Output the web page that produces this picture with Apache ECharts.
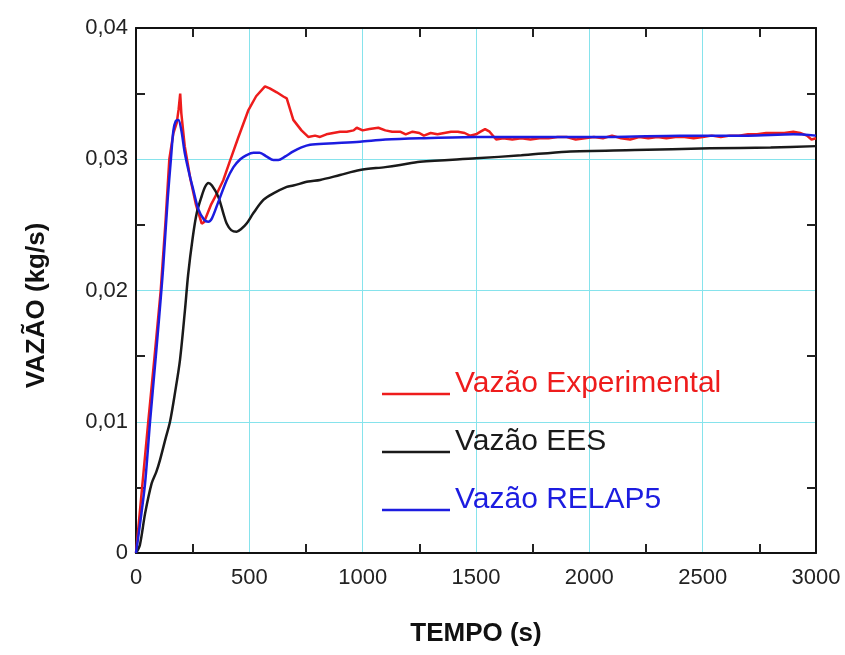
<!DOCTYPE html>
<html>
<head>
<meta charset="utf-8">
<script src="https://cdn.jsdelivr.net/npm/echarts@6/dist/echarts.min.js"></script>
<style>
html,body{margin:0;padding:0;background:#fff;}
#chart{width:845px;height:655px;}
</style>
</head>
<body>
<div id="chart"></div>
<script>
// ---- data ----
var seriesNames = ['Vazão Experimental', 'Vazão EES', 'Vazão RELAP5'];

var expTime = [0, 27, 54, 82, 109, 130, 147, 165, 180, 188, 195, 200, 215, 240, 265, 290, 300, 330, 360, 385, 415, 450, 496, 530, 569, 590, 621, 650, 665, 694, 730, 760, 790, 812, 840, 870, 900, 930, 960, 974, 1000, 1030, 1069, 1100, 1130, 1165, 1190, 1220, 1250, 1270, 1300, 1330, 1360, 1390, 1420, 1450, 1473, 1500, 1520, 1540, 1560, 1589, 1620, 1660, 1700, 1740, 1780, 1820, 1860, 1900, 1940, 1980, 2020, 2060, 2100, 2140, 2180, 2220, 2260, 2300, 2340, 2380, 2420, 2460, 2500, 2540, 2580, 2620, 2660, 2700, 2740, 2780, 2820, 2860, 2900, 2930, 2960, 2980, 3000];
var expFlow = [0, 0.005, 0.01, 0.015, 0.02, 0.0252, 0.03, 0.032, 0.0328, 0.0338, 0.035, 0.0335, 0.031, 0.0285, 0.0265, 0.0251, 0.0252, 0.0265, 0.0275, 0.0284, 0.0299, 0.0316, 0.03375, 0.0348, 0.03555, 0.0354, 0.0351, 0.03478, 0.03464, 0.033, 0.0322, 0.0317, 0.0318, 0.0317, 0.0319, 0.032, 0.0321, 0.0321, 0.0322, 0.0324, 0.0322, 0.0323, 0.0324, 0.0322, 0.0321, 0.0321, 0.0319, 0.0321, 0.032, 0.0318, 0.032, 0.0319, 0.032, 0.0321, 0.0321, 0.032, 0.0318, 0.0319, 0.0321, 0.0323, 0.0321, 0.0315, 0.0316, 0.0315, 0.0316, 0.0315, 0.0316, 0.0316, 0.0317, 0.0317, 0.0315, 0.0316, 0.0317, 0.0316, 0.0318, 0.0316, 0.0315, 0.0317, 0.0316, 0.0317, 0.0316, 0.0317, 0.0317, 0.0316, 0.0317, 0.0318, 0.0317, 0.0318, 0.0318, 0.0319, 0.0319, 0.032, 0.032, 0.032, 0.0321, 0.032, 0.0318, 0.0315, 0.0316];

var eesTime = [0, 17, 40, 69, 90, 106, 130, 150, 172, 194, 216, 230, 250, 268, 290, 305, 319, 335, 363, 385, 400, 420, 444, 465, 488, 518, 562, 606, 665, 694, 760, 812, 900, 988, 1100, 1165, 1253, 1500, 1700, 1900, 2200, 2532, 2800, 3000];
var eesFlow = [0, 0.0006, 0.003, 0.0053, 0.0062, 0.0071, 0.0087, 0.01, 0.0122, 0.0147, 0.0185, 0.0212, 0.024, 0.0259, 0.0272, 0.0279, 0.0282, 0.028, 0.02715, 0.0259, 0.0251, 0.0246, 0.02448, 0.0247, 0.0251, 0.0259, 0.0269, 0.0274, 0.0279, 0.028, 0.0283, 0.02842, 0.0288, 0.02918, 0.0294, 0.02956, 0.02981, 0.03007, 0.0303, 0.03058, 0.0307, 0.03083, 0.0309, 0.031];

var relapTime = [0, 20, 40, 62, 90, 112, 120, 140, 154, 165, 175, 187, 200, 215, 235, 253, 275, 300, 319, 335, 360, 400, 430, 460, 488, 518, 545, 577, 606, 628, 657, 694, 730, 768, 850, 988, 1100, 1253, 1500, 1800, 2100, 2400, 2700, 2900, 3000];
var relapFlow = [0, 0.0025, 0.0053, 0.01, 0.0155, 0.02, 0.0218, 0.027, 0.03, 0.0322, 0.0329, 0.033, 0.0322, 0.0305, 0.0289, 0.02766, 0.0262, 0.0254, 0.02524, 0.0255, 0.0266, 0.0284, 0.0294, 0.03, 0.03032, 0.0305, 0.0305, 0.0302, 0.02994, 0.02994, 0.0302, 0.0306, 0.0309, 0.0311, 0.0312, 0.03134, 0.0315, 0.0316, 0.0317, 0.0317, 0.0317, 0.0318, 0.0318, 0.0319, 0.0318];

var xTicks = [0, 500, 1000, 1500, 2000, 2500, 3000];
var yTicks = [0, 0.01, 0.02, 0.03, 0.04];

// ---- build ----
function zip(t, v) { return t.map(function (x, i) { return [x, v[i]]; }); }
var colors = ['#ee1c1c', '#1a1a1a', '#1c1ce0'];
var gridColor = '#86e3ec';
var fam = '"Liberation Sans", Arial, Helvetica, sans-serif';

function yFmt(v) { return v === 0 ? '0' : v.toFixed(2).replace('.', ','); }
function xFmt(v) { return String(Math.round(v)); }

var chart = echarts.init(document.getElementById('chart'), null, {renderer: 'canvas'});
var commonAxis = {
  axisLine: {show: true, onZero: false, lineStyle: {color: '#111', width: 2}},
  axisTick: {show: false, inside: true},
  minorTick: {show: true, splitNumber: 2, length: 9, lineStyle: {color: '#222', width: 2}},
  minorSplitLine: {show: false}
};
function ax(extra) { return Object.assign({}, JSON.parse(JSON.stringify(commonAxis)), extra); }

chart.setOption({
  animation: false,
  backgroundColor: '#fff',
  grid: {left: 136, right: 29, top: 28, bottom: 102, containLabel: false},
  legend: {
    orient: 'vertical',
    left: 377,
    top: 364,
    padding: 5,
    itemGap: 8,
    itemWidth: 68,
    itemHeight: 2.5,
    icon: 'rect',
    formatter: function (n) { return '{t|' + n + '}'; },
    data: seriesNames.map(function (n, i) {
      return {name: n, textStyle: {color: colors[i], rich: {t: {color: colors[i], fontFamily: fam, fontSize: 30, lineHeight: 30, padding: [0, 0, 20, 0]}}}};
    }),
    textStyle: {fontFamily: fam, fontSize: 30}
  },
  xAxis: [
    ax({
      type: 'value', position: 'bottom', min: xTicks[0], max: xTicks[xTicks.length - 1], interval: 500,
      name: 'TEMPO (s)', nameLocation: 'middle', nameGap: 68,
      nameTextStyle: {fontFamily: fam, fontSize: 26, fontWeight: 'bold', color: '#111'},
      axisLabel: {margin: 14, fontFamily: fam, fontSize: 22, color: '#222', formatter: xFmt},
      splitLine: {show: true, lineStyle: {color: gridColor, width: 1}}
    }),
    ax({
      type: 'value', position: 'top', min: xTicks[0], max: xTicks[xTicks.length - 1], interval: 500,
      axisLabel: {show: false}, splitLine: {show: false}
    })
  ],
  yAxis: [
    ax({
      type: 'value', position: 'left', min: yTicks[0], max: yTicks[yTicks.length - 1], interval: 0.01,
      name: 'VAZÃO (kg/s)', nameLocation: 'middle', nameGap: 86,
      nameTextStyle: {fontFamily: fam, fontSize: 26, fontWeight: 'bold', color: '#111', padding: [0, 30, 0, 0]},
      axisLabel: {margin: 8, fontFamily: fam, fontSize: 22, color: '#222', formatter: yFmt},
      splitLine: {show: true, lineStyle: {color: gridColor, width: 1}}
    }),
    ax({
      type: 'value', position: 'right', min: yTicks[0], max: yTicks[yTicks.length - 1], interval: 0.01,
      axisLabel: {show: false}, splitLine: {show: false}
    })
  ],
  series: [
    {name: seriesNames[0], type: 'line', data: zip(expTime, expFlow), showSymbol: false, symbol: 'none',
     lineStyle: {color: colors[0], width: 2.5}, itemStyle: {color: colors[0]}, z: 3},
    {name: seriesNames[1], type: 'line', data: zip(eesTime, eesFlow), showSymbol: false, symbol: 'none', smooth: 0.3,
     lineStyle: {color: colors[1], width: 2.5}, itemStyle: {color: colors[1]}, z: 4},
    {name: seriesNames[2], type: 'line', data: zip(relapTime, relapFlow), showSymbol: false, symbol: 'none', smooth: 0.3,
     lineStyle: {color: colors[2], width: 2.5}, itemStyle: {color: colors[2]}, z: 5}
  ]
});
</script>
</body>
</html>
